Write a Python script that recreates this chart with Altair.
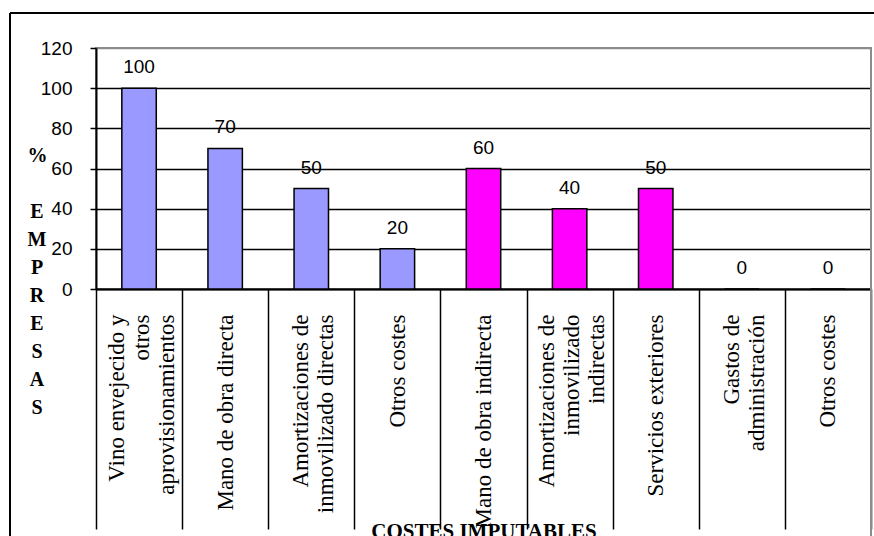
import altair as alt
import pandas as pd

# Cost categories (lines separated by "|"), share of firms (%) and cost type
categorias = [
    "Vino envejecido y|otros|aprovisionamientos",
    "Mano de obra directa",
    "Amortizaciones de|inmovilizado directas",
    "Otros costes",
    "Mano de obra indirecta",
    "Amortizaciones de|inmovilizado|indirectas",
    "Servicios exteriores",
    "Gastos de|administración",
    "Otros costes",
]
porcentajes = [100, 70, 50, 20, 60, 40, 50, 0, 0]
tipos = ["Directos", "Directos", "Directos", "Directos",
         "Indirectos", "Indirectos", "Indirectos", "Indirectos", "Indirectos"]
tipo_dominio = ["Directos", "Indirectos"]
tipo_colores = ["#9999FF", "#FF00FF"]
y_ticks = [0, 20, 40, 60, 80, 100, 120]
titulo_y = "%"
titulo_y_letras = ["E", "M", "P", "R", "E", "S", "A", "S"]
titulo_x = "COSTES IMPUTABLES"

df = pd.DataFrame({
    "orden": list(range(len(categorias))),
    "porcentaje": porcentajes,
    "tipo": tipos,
})

arr = "[" + ",".join("'" + c + "'" for c in categorias) + "]"
label_expr = f"isValid({arr}[datum.value]) ? split({arr}[datum.value], '|') : ''"

# centre multi-line label blocks on their category
LINE_H = 25
n_lineas = [len(c.split("|")) for c in categorias]
tres = [str(i) for i, n in enumerate(n_lineas) if n == 3]
dos = [str(i) for i, n in enumerate(n_lineas) if n == 2]
label_offset = {
    "condition": [
        {"test": "indexof([" + ",".join(tres) + "], datum.value) >= 0", "value": -LINE_H + 2},
        {"test": "indexof([" + ",".join(dos) + "], datum.value) >= 0", "value": -LINE_H / 2 + 2},
    ],
    "value": 0,
}

W, H = 775, 241
TITLE_FONT = dict(font="Liberation Serif", fontWeight="bold", fontSize=20, color="black")

x_enc = alt.X(
    "orden:O",
    scale=alt.Scale(paddingInner=0, paddingOuter=0),
    axis=alt.Axis(
        labelExpr=label_expr,
        labelAngle=-90,
        labelAlign="right",
        labelBaseline="middle",
        labelFont="Liberation Serif",
        labelFontSize=23,
        labelLineHeight=LINE_H,
        labelLimit=0,
        labelOverlap=False,
        labelPadding=-215,
        labelOffset=label_offset,
        labelColor="black",
        tickBand="extent",
        tickSize=240,
        tickColor="black",
        tickWidth=1.5,
        domainColor="black",
        domainWidth=2,
        grid=False,
        title=titulo_x,
        titleFont="Liberation Serif",
        titleFontWeight="bold",
        titleFontSize=21,
        titleColor="black",
        titleBaseline="alphabetic",
        titleY=248,
    ),
)

y_enc = alt.Y(
    "porcentaje:Q",
    scale=alt.Scale(domain=[0, 120], nice=False),
    axis=alt.Axis(
        values=y_ticks,
        labelFont="Liberation Sans",
        labelFontSize=19,
        labelColor="black",
        labelPadding=18,
        tickSize=6,
        tickColor="black",
        tickWidth=1.5,
        domainColor="black",
        domainWidth=2,
        gridColor={"condition": {"test": "datum.value >= 120", "value": "#8c8c8c"},
                   "value": "black"},
        gridWidth=1.5,
        title=titulo_y,
        titleAngle=0,
        titleFont="Liberation Serif",
        titleFontWeight="bold",
        titleFontSize=20,
        titleColor="black",
        titleAlign="center",
        titleBaseline="middle",
        titleX=-59,
        titleY=107,
    ),
)

base = alt.Chart(df)

barras = base.mark_bar(
    width=alt.RelativeBandSize(0.4), stroke="black", strokeWidth=1.5
).encode(
    x=x_enc,
    y=y_enc,
    color=alt.Color("tipo:N", scale=alt.Scale(domain=tipo_dominio, range=tipo_colores),
                    legend=None),
)

etiquetas = base.mark_text(
    dy=-21, baseline="middle", font="Liberation Sans", fontSize=19, color="black"
).encode(
    x=alt.X("orden:O"),
    y=alt.Y("porcentaje:Q"),
    text=alt.Text("porcentaje:Q"),
)

marco = alt.Chart(pd.DataFrame({"k": [0]}))

# stacked letters continuing the y-axis title below the "%"
titulo_vertical = marco.mark_text(
    text=titulo_y_letras, lineHeight=28, align="center", baseline="middle", **TITLE_FONT
).encode(x=alt.value(-59), y=alt.value(164))

# outer chart frame (left and top edges) and right edge of the plot area
marco_izq = marco.mark_rule(color="black", strokeWidth=2).encode(
    x=alt.value(-86), y=alt.value(-35), y2=alt.value(490)
)
marco_sup = marco.mark_rule(color="black", strokeWidth=2).encode(
    x=alt.value(-86), x2=alt.value(780), y=alt.value(-35)
)
borde_der = marco.mark_rule(color="#8c8c8c", strokeWidth=2).encode(
    x=alt.value(W), y=alt.value(0), y2=alt.value(490)
)

chart = alt.layer(
    barras, etiquetas, titulo_vertical, borde_der, marco_izq, marco_sup
).properties(
    width=W,
    height=H,
    padding={"left": 96, "top": 48, "right": 3, "bottom": 247},
    autosize=alt.AutoSizeParams(type="none"),
    background="white",
).configure_view(stroke="#8c8c8c", strokeWidth=2)

chart.save("out.html", embed_options={"renderer": "svg", "actions": False})
